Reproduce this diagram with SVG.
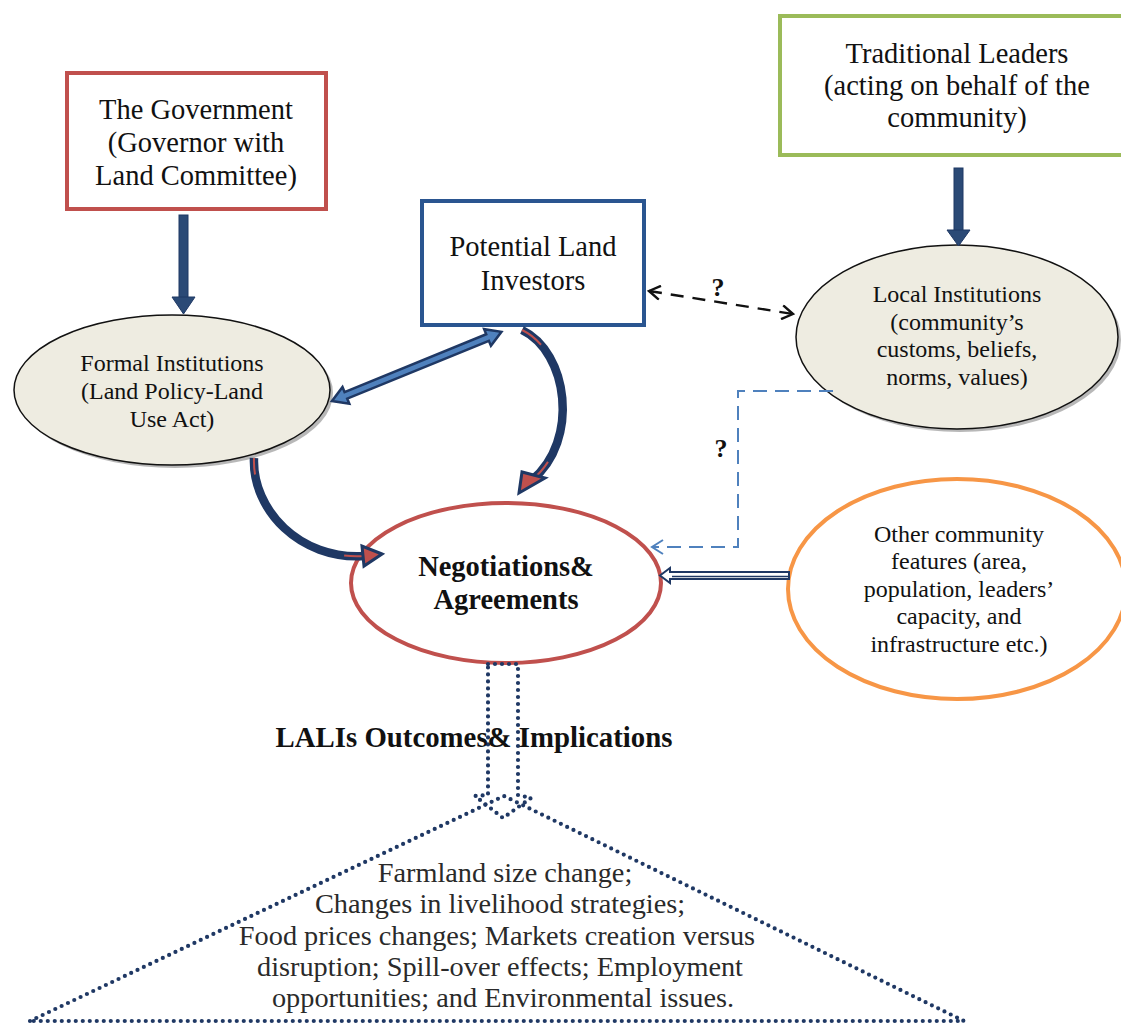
<svg xmlns="http://www.w3.org/2000/svg" width="1121" height="1025" viewBox="0 0 1121 1025">
<style>
.t{font-family:"Liberation Serif","Times New Roman",serif;fill:#111;text-anchor:middle}
.big{font-size:28.5px}
.mid{font-size:24px}
.b{font-weight:bold}
.out{font-family:"Liberation Serif","Times New Roman",serif;fill:#2a2a2a;text-anchor:middle;font-size:28.3px}
.navy{fill:#2b4a76;stroke:#1f3864;stroke-width:1}
.dot{fill:none;stroke:#1f3864;stroke-width:4.2;stroke-linecap:round;stroke-dasharray:0 7}
</style>
<defs>
<marker id="chev" markerWidth="16" markerHeight="16" refX="13" refY="8" orient="auto-start-reverse" markerUnits="userSpaceOnUse">
<path d="M2,1 L13,8 L2,15" fill="none" stroke="#111" stroke-width="2.4"/>
</marker>
<marker id="bchev" markerWidth="16" markerHeight="16" refX="13" refY="8" orient="auto" markerUnits="userSpaceOnUse">
<path d="M2,1 L13,8 L2,15" fill="none" stroke="#4f81bd" stroke-width="2"/>
</marker>
</defs>
<rect width="1121" height="1025" fill="#fff"/>

<g id="government">
<rect x="67" y="73" width="259" height="136" fill="#fff" stroke="#c0504d" stroke-width="4"/>
<text class="t big" x="196" y="119">The Government</text>
<text class="t big" x="196" y="152">(Governor with</text>
<text class="t big" x="196" y="185">Land Committee)</text>
</g>

<g id="traditional-leaders">
<rect x="780" y="16" width="345" height="139" fill="#fff" stroke="#9bbb59" stroke-width="4"/>
<text class="t big" x="957" y="63">Traditional Leaders</text>
<text class="t big" x="957" y="95">(acting on behalf of the</text>
<text class="t big" x="957" y="127">community)</text>
</g>

<g id="investors">
<rect x="422" y="201" width="222" height="124" fill="#fff" stroke="#2a5590" stroke-width="4"/>
<text class="t big" x="533" y="256">Potential Land</text>
<text class="t big" x="533" y="290">Investors</text>
</g>

<g id="formal-institutions">
<ellipse cx="175" cy="393" rx="158" ry="75" fill="#9a9a9a" opacity="0.7"/>
<ellipse cx="172" cy="390" rx="158" ry="75" fill="#eeece1" stroke="#111" stroke-width="1.5"/>
<text class="t mid" x="172" y="371">Formal Institutions</text>
<text class="t mid" x="172" y="399">(Land Policy-Land</text>
<text class="t mid" x="172" y="427">Use Act)</text>
</g>

<g id="local-institutions">
<ellipse cx="960" cy="340" rx="161" ry="92" fill="#9a9a9a" opacity="0.7"/>
<ellipse cx="957" cy="337" rx="161" ry="92" fill="#eeece1" stroke="#111" stroke-width="1.5"/>
<text class="t mid" x="957" y="302">Local Institutions</text>
<text class="t mid" x="957" y="330">(community’s</text>
<text class="t mid" x="957" y="357">customs, beliefs,</text>
<text class="t mid" x="957" y="385">norms, values)</text>
</g>

<g id="negotiations">
<ellipse cx="506" cy="583" rx="155" ry="80" fill="#fff" stroke="#c0504d" stroke-width="4"/>
<text class="t b" style="font-size:28.5px" x="506" y="576">Negotiations&amp;</text>
<text class="t b" style="font-size:28.5px" x="506" y="609">Agreements</text>
</g>

<g id="other-features">
<ellipse cx="957" cy="589" rx="169" ry="110" fill="#fff" stroke="#f79646" stroke-width="4"/>
<text class="t mid" x="959" y="542">Other community</text>
<text class="t mid" x="959" y="569">features (area,</text>
<text class="t mid" x="959" y="597">population, leaders’</text>
<text class="t mid" x="959" y="624">capacity, and</text>
<text class="t mid" x="959" y="652">infrastructure etc.)</text>
</g>

<g id="outcomes">
<path class="dot" d="M488,664 L518,664 L518,795 L531,798 L503,818 L475,796 L488,795 Z"/>
<path class="dot" d="M30,1021 L504,796 L964,1021 Z"/>
<text class="t b" style="font-size:28.8px" x="474" y="747">LALIs Outcomes&amp; Implications</text>
<text class="out" x="505" y="882">Farmland size change;</text>
<text class="out" x="500" y="913">Changes in livelihood strategies;</text>
<text class="out" x="497" y="945">Food prices changes; Markets creation versus</text>
<text class="out" x="500" y="976">disruption; Spill-over effects; Employment</text>
<text class="out" x="503" y="1007">opportunities; and Environmental issues.</text>
</g>

<g id="connectors">
<rect class="navy" x="179" y="215" width="9" height="84"/>
<polygon class="navy" points="172,297 195,297 183.5,314"/>
<rect class="navy" x="954" y="168" width="9" height="64"/>
<polygon class="navy" points="947,230 970,230 958.5,246"/>
<g transform="translate(332,401) rotate(-22.2)">
<polygon points="0,0 15,-9 15,-3.5 168,-3.5 168,-9 183,0 168,9 168,3.5 15,3.5 15,9" fill="#4f81bd" stroke="#1f3864" stroke-width="2.5" stroke-linejoin="miter"/>
</g>
<path d="M522,330 C568,352 580,440 532,480" fill="none" stroke="#1f3864" stroke-width="8.5"/>
<path d="M522,330 C568,352 580,440 532,480" fill="none" stroke="#c0504d" stroke-width="2" pathLength="100" stroke-dasharray="14 72 14"/>
<polygon points="519,493 522,472 545,478" fill="#c0504d" stroke="#1f3864" stroke-width="3" stroke-linejoin="miter"/>
<path d="M254,458 C252,510 300,560 364,556" fill="none" stroke="#1f3864" stroke-width="8.5"/>
<path d="M254,458 C252,510 300,560 364,556" fill="none" stroke="#c0504d" stroke-width="2" pathLength="100" stroke-dasharray="10 78 12"/>
<polygon points="382,554 362,546 364,566" fill="#c0504d" stroke="#1f3864" stroke-width="3" stroke-linejoin="miter"/>
<line x1="649" y1="291" x2="793" y2="314" stroke="#111" stroke-width="2.4" stroke-dasharray="13 9" marker-start="url(#chev)" marker-end="url(#chev)"/>
<text class="t b" style="font-size:26px" x="718" y="296">?</text>
<polyline points="833,391 738,391 738,547 652,547" fill="none" stroke="#4f81bd" stroke-width="2" stroke-dasharray="14 8" marker-end="url(#bchev)"/>
<text class="t b" style="font-size:26px" x="721" y="457">?</text>
<polygon points="660,575.5 670,568 670,572 789,572 789,579 670,579 670,583" fill="#fff" stroke="#1f3864" stroke-width="2"/>
<line x1="672" y1="576.5" x2="788" y2="576.5" stroke="#1f3864" stroke-width="1.5"/>
</g>
</svg>
